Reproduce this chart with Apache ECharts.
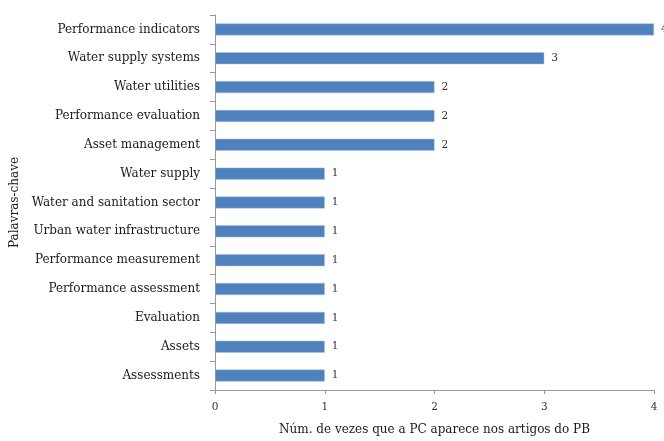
<!DOCTYPE html>
<html><head><meta charset="utf-8">
<script src="https://cdn.jsdelivr.net/npm/echarts@6/dist/echarts.min.js"></script>
<style>html,body{margin:0;padding:0;background:#fff}#c{width:664px;height:441px}</style>
</head><body><div id="c"></div>
<script>
const categories = ["Performance indicators","Water supply systems","Water utilities","Performance evaluation","Asset management","Water supply","Water and sanitation sector","Urban water infrastructure","Performance measurement","Performance assessment","Evaluation","Assets","Assessments"];
const values = [4,3,2,2,2,1,1,1,1,1,1,1,1];
const xTicks = [0,1,2,3,4];
const font = "DejaVu Serif";
const chart = echarts.init(document.getElementById('c'));
chart.setOption({
  animation:false,
  grid:{left:215,right:10,top:15,bottom:46,containLabel:false},
  xAxis:{type:'value',min:xTicks[0],max:xTicks[xTicks.length-1],interval:1,
    name:'Núm. de vezes que a PC aparece nos artigos do PB',nameLocation:'middle',nameGap:34,
    nameTextStyle:{fontFamily:font,fontSize:12,color:'#1a1a1a'},
    axisLine:{show:true,lineStyle:{color:'#999',width:1}},
    axisTick:{show:true,length:4,lineStyle:{color:'#999'}},
    axisLabel:{fontFamily:font,fontSize:10.5,color:'#333',margin:12},
    splitLine:{show:false}},
  yAxis:{type:'category',data:categories,inverse:true,
    name:'Palavras-chave',nameLocation:'middle',nameGap:191,nameRotate:90,
    nameTextStyle:{fontFamily:font,fontSize:12,color:'#1a1a1a'},
    axisLine:{show:true,lineStyle:{color:'#999',width:1}},
    axisTick:{show:true,length:5,lineStyle:{color:'#999'}},
    axisLabel:{fontFamily:font,fontSize:12,color:'#1a1a1a',margin:15}},
  series:[{type:'bar',data:values,barWidth:12,
    itemStyle:{color:'#4F81BD',borderColor:'#a9c1e0',borderWidth:0.5},
    label:{show:true,position:'right',distance:7,fontFamily:font,fontSize:10.5,color:'#333'}}]
});
</script></body></html>
